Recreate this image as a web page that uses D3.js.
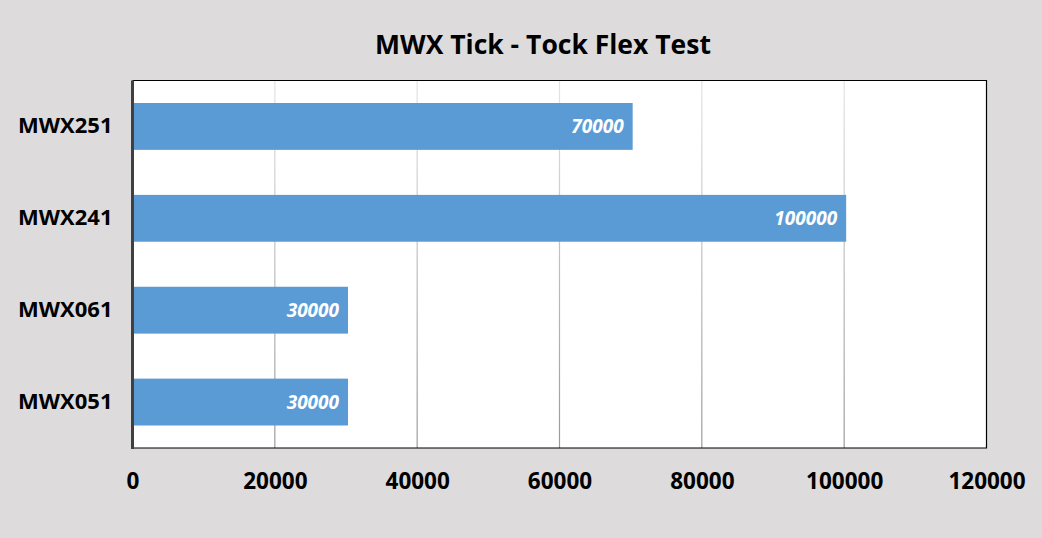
<!DOCTYPE html>
<meta charset="utf-8" />
<style>
  body { margin: 0; background: #dddbdc; }
  text { font-family: "Open Sans", "DejaVu Sans", sans-serif; }
  .title { font-size: 26.5px; font-weight: bold; }
  .tick text { font-weight: bold; fill: #000; }
  .xax .tick text { font-size: 22.5px; }
  .yax .tick text { font-size: 22px; }
  .val { font-size: 19px; font-weight: bold; font-style: italic; fill: #fff; }
</style>
<svg width="1042" height="538"></svg>
<script src="https://d3js.org/d3.v7.min.js"></script>
<script>
  var categories = ["MWX251", "MWX241", "MWX061", "MWX051"];
  var values = [70000, 100000, 30000, 30000];
  var xTicks = [0, 20000, 40000, 60000, 80000, 100000, 120000];

  var svg = d3.select("svg"),
    pLeft = 132.5, pRight = 986.5, pTop = 80.5, pBottom = 448;

  var x = d3.scaleLinear().domain([0, 120000]).range([pLeft, pRight]);
  var y = d3.scaleBand().domain(categories).range([pTop, pBottom]).paddingInner(0.49).paddingOuter(0.245);

  // gradient for gridlines: light at top, darker at bottom
  var grad = svg.append("defs").append("linearGradient")
    .attr("id", "grid").attr("gradientUnits", "userSpaceOnUse")
    .attr("x1", 0).attr("y1", pTop).attr("x2", 0).attr("y2", pBottom);
  grad.append("stop").attr("offset", 0).attr("stop-color", "#e4e4e4");
  grad.append("stop").attr("offset", 1).attr("stop-color", "#9a9a9a");

  svg.append("rect")
    .attr("x", pLeft).attr("y", pTop)
    .attr("width", pRight - pLeft).attr("height", pBottom - pTop)
    .attr("fill", "#fff");

  svg.append("g").selectAll("line")
    .data(xTicks.slice(1, -1))
    .join("line")
    .attr("x1", d => x(d)).attr("x2", d => x(d))
    .attr("y1", pTop).attr("y2", pBottom)
    .attr("stroke", "url(#grid)").attr("stroke-width", 1.2);

  svg.append("g").selectAll("rect")
    .data(values)
    .join("rect")
    .attr("x", x(0))
    .attr("y", (d, i) => y(categories[i]))
    .attr("width", d => x(d) - x(0) + 2)
    .attr("height", y.bandwidth())
    .attr("fill", "#5b9bd5");

  svg.append("g").selectAll("text")
    .data(values)
    .join("text")
    .attr("class", "val")
    .attr("x", d => x(d) - 7)
    .attr("y", (d, i) => y(categories[i]) + y.bandwidth() / 2)
    .attr("dy", ".35em")
    .attr("text-anchor", "end")
    .text(d => d);

  // border: top, right, bottom black; left thick gray
  svg.append("path")
    .attr("d", "M" + pLeft + "," + pTop + "H" + pRight + "V" + pBottom + "H" + pLeft)
    .attr("fill", "none").attr("stroke", "#000").attr("stroke-width", 1.2);
  svg.append("line")
    .attr("x1", pLeft).attr("x2", pLeft).attr("y1", pTop).attr("y2", pBottom + 1)
    .attr("stroke", "#404040").attr("stroke-width", 3);

  var xAxis = svg.append("g")
    .attr("class", "xax")
    .attr("transform", "translate(0," + (pBottom + 25) + ")")
    .call(d3.axisBottom(x).tickValues(xTicks).tickFormat(d3.format("d")).tickSize(0).tickPadding(0));
  xAxis.select(".domain").remove();
  xAxis.selectAll("text").attr("dy", ".71em");

  var yAxis = svg.append("g")
    .attr("class", "yax")
    .attr("transform", "translate(" + (pLeft - 20) + ",0)")
    .call(d3.axisLeft(y).tickSize(0).tickPadding(0));
  yAxis.select(".domain").remove();

  svg.append("text")
    .attr("class", "title")
    .attr("x", 543).attr("y", 54)
    .attr("text-anchor", "middle")
    .text("MWX Tick - Tock Flex Test");
</script>
